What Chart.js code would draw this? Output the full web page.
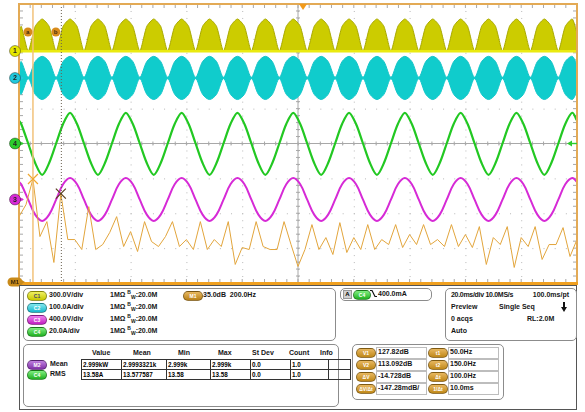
<!DOCTYPE html>
<html>
<head>
<meta charset="utf-8">
<script src="https://cdn.jsdelivr.net/npm/chart.js@4.4.0/dist/chart.umd.min.js"></script>
<style>
  body { margin: 0; background: #fff; width: 585px; height: 412px; overflow: hidden; font-family: "Liberation Sans", Arial, sans-serif; }
  #wrap { position: absolute; left: 0; top: 0; width: 585px; height: 290px; }
  .panel { position: absolute; left: 19px; top: 285px; width: 556px; height: 123px; border: 1px solid #555; background: #fff; }
  .box { position: absolute; border: 1px solid #8c8c8c; border-radius: 5px; background: #fff; }
  .t { position: absolute; font-size: 7px; font-weight: bold; color: #151515; white-space: nowrap; line-height: 10px; }
  .badge { position: absolute; width: 18px; height: 8px; border-radius: 5px; font-size: 5px; font-weight: bold; line-height: 8px; text-align: center; color: #fff; border: 1px solid rgba(0,0,0,0.35); }
  .c1 { background: linear-gradient(#f0f060, #c8c800); color: #446; }
  .c2 { background: linear-gradient(#80e8f0, #18b8cc); }
  .c3 { background: linear-gradient(#f080f0, #c020c0); }
  .c4 { background: linear-gradient(#80f080, #20b020); }
  .m1 { background: linear-gradient(#e8b860, #b88018); }
  .m2 { background: linear-gradient(#c080e0, #8030a8); }
  .cur { background: linear-gradient(#e8b860, #c08818); }
  table.meas { position: absolute; left: 81px; top: 359px; border-collapse: collapse; font-size: 6.3px; font-weight: bold; }
  table.meas td { border: 1px solid #333; height: 9px; padding: 0 1px; line-height: 9px; white-space: nowrap; }
  .cell { position: absolute; width: 49px; height: 10px; border: 1px solid #bdbdbd; background: #fff; }
  sup, sub { font-size: 5px; line-height: 0; }
</style>
</head>
<body>
<div id="wrap"><canvas id="scope" width="585" height="290"></canvas></div>

<div class="panel"></div>
<!-- channel settings -->
<div class="box" style="left:23px;top:288px;width:311px;height:51px;"></div>
<div class="badge c1" style="left:27px;top:291px;">C1</div><div class="t" style="left:49px;top:290px;">300.0V/div</div>
<div class="t" style="left:110px;top:290px;">1MΩ <sup>B</sup><sub>W</sub>:20.0M</div>
<div class="badge c2" style="left:27px;top:303px;">C2</div><div class="t" style="left:49px;top:302px;">100.0A/div</div>
<div class="t" style="left:110px;top:302px;">1MΩ <sup>B</sup><sub>W</sub>:20.0M</div>
<div class="badge c3" style="left:27px;top:315px;">C3</div><div class="t" style="left:49px;top:314px;">400.0V/div</div>
<div class="t" style="left:110px;top:314px;">1MΩ <sup>B</sup><sub>W</sub>:20.0M</div>
<div class="badge c4" style="left:27px;top:327px;">C4</div><div class="t" style="left:49px;top:326px;">20.0A/div</div>
<div class="t" style="left:110px;top:326px;">1MΩ <sup>B</sup><sub>W</sub>:20.0M</div>
<div class="badge m1" style="left:183px;top:291px;">M1</div><div class="t" style="left:203px;top:290px;">35.0dB&nbsp;&nbsp;200.0Hz</div>

<!-- trigger -->
<div class="box" style="left:340px;top:288px;width:90px;height:11px;"></div>
<div style="position:absolute;left:343px;top:290px;width:7px;height:7px;background:#d0d0d0;border:1px solid #999;font-size:6px;font-weight:bold;line-height:7px;text-align:center;">A</div>
<div class="badge c4" style="left:353px;top:290px;width:16px;">C4</div>
<svg style="position:absolute;left:370px;top:289px;" width="7" height="9"><path d="M0 1.5 H2 L5 7.5 H7" stroke="#111" stroke-width="1.2" fill="none"/></svg>
<div class="t" style="left:378px;top:289px;">400.0mA</div>

<!-- horizontal -->
<div class="box" style="left:445px;top:288px;width:130px;height:51px;"></div>
<div class="t" style="left:451px;top:290px;letter-spacing:-0.3px;">20.0ms/div 10.0MS/s</div>
<div class="t" style="left:526px;top:290px;width:43px;text-align:right;">100.0ms/pt</div>
<div class="t" style="left:451px;top:302px;">Preview</div>
<div class="t" style="left:499px;top:302px;">Single Seq</div>
<svg style="position:absolute;left:561px;top:302px;" width="6" height="10"><rect x="2" y="0" width="2" height="6" fill="#111"/><path d="M0 5 H6 L3 10 Z" fill="#111"/></svg>
<div class="t" style="left:451px;top:314px;">0 acqs</div>
<div class="t" style="left:527px;top:314px;">RL:2.0M</div>
<div class="t" style="left:451px;top:326px;">Auto</div>

<!-- measurements -->
<div class="box" style="left:23px;top:344px;width:314px;height:61px;"></div>
<div class="t" style="left:92px;top:348px;">Value</div>
<div class="t" style="left:133px;top:348px;">Mean</div>
<div class="t" style="left:178px;top:348px;">Min</div>
<div class="t" style="left:218px;top:348px;">Max</div>
<div class="t" style="left:252px;top:348px;">St Dev</div>
<div class="t" style="left:289px;top:348px;">Count</div>
<div class="t" style="left:320px;top:348px;">Info</div>
<div class="badge m2" style="left:27px;top:360px;">M2</div><div class="t" style="left:50px;top:359px;">Mean</div>
<div class="badge c4" style="left:27px;top:370px;">C4</div><div class="t" style="left:50px;top:369px;">RMS</div>
<table class="meas" id="measTable"></table>

<!-- cursors -->
<div class="box" style="left:352px;top:344px;width:150px;height:54px;"></div>
<div id="cursorRows"></div>

<script>
// time base: 20 ms/div over 10 div, samples read every 2.5 ms (plus both edges)
const timeMs = [0,
  0.8, 3.3, 5.8, 8.3, 10.8, 13.3, 15.8, 18.3,
  20.8, 23.3, 25.8, 28.3, 30.8, 33.3, 35.8, 38.3,
  40.8, 43.3, 45.8, 48.3, 50.8, 53.3, 55.8, 58.3,
  60.8, 63.3, 65.8, 68.3, 70.8, 73.3, 75.8, 78.3,
  80.8, 83.3, 85.8, 88.3, 90.8, 93.3, 95.8, 98.3,
  100.8, 103.3, 105.8, 108.3, 110.8, 113.3, 115.8, 118.3,
  120.8, 123.3, 125.8, 128.3, 130.8, 133.3, 135.8, 138.3,
  140.8, 143.3, 145.8, 148.3, 150.8, 153.3, 155.8, 158.3,
  160.8, 163.3, 165.8, 168.3, 170.8, 173.3, 175.8, 178.3,
  180.8, 183.3, 185.8, 188.3, 190.8, 193.3, 195.8, 198.3,
  200];

// trace positions in screen divisions (-4 .. 4)
const ch1Upper = [3.17,
  3.36, 2.65, 3.36, 3.57, 3.36, 2.65, 3.36, 3.57,
  3.36, 2.65, 3.36, 3.57, 3.36, 2.65, 3.36, 3.57,
  3.36, 2.65, 3.36, 3.57, 3.36, 2.65, 3.36, 3.57,
  3.36, 2.65, 3.36, 3.57, 3.36, 2.65, 3.36, 3.57,
  3.36, 2.65, 3.36, 3.57, 3.36, 2.65, 3.36, 3.57,
  3.36, 2.65, 3.36, 3.57, 3.36, 2.65, 3.36, 3.57,
  3.36, 2.65, 3.36, 3.57, 3.36, 2.65, 3.36, 3.57,
  3.36, 2.65, 3.36, 3.57, 3.36, 2.65, 3.36, 3.57,
  3.36, 2.65, 3.36, 3.57, 3.36, 2.65, 3.36, 3.57,
  3.36, 2.65, 3.36, 3.57, 3.36, 2.65, 3.36, 3.57,
  3.17];
const ch2Upper = [2.25,
  2.35, 1.90, 2.35, 2.50, 2.35, 1.90, 2.35, 2.50,
  2.35, 1.90, 2.35, 2.50, 2.35, 1.90, 2.35, 2.50,
  2.35, 1.90, 2.35, 2.50, 2.35, 1.90, 2.35, 2.50,
  2.35, 1.90, 2.35, 2.50, 2.35, 1.90, 2.35, 2.50,
  2.35, 1.90, 2.35, 2.50, 2.35, 1.90, 2.35, 2.50,
  2.35, 1.90, 2.35, 2.50, 2.35, 1.90, 2.35, 2.50,
  2.35, 1.90, 2.35, 2.50, 2.35, 1.90, 2.35, 2.50,
  2.35, 1.90, 2.35, 2.50, 2.35, 1.90, 2.35, 2.50,
  2.35, 1.90, 2.35, 2.50, 2.35, 1.90, 2.35, 2.50,
  2.35, 1.90, 2.35, 2.50, 2.35, 1.90, 2.35, 2.50,
  2.25];
const ch2Lower = [1.50,
  1.41, 1.86, 1.41, 1.26, 1.41, 1.86, 1.41, 1.26,
  1.41, 1.86, 1.41, 1.26, 1.41, 1.86, 1.41, 1.26,
  1.41, 1.86, 1.41, 1.26, 1.41, 1.86, 1.41, 1.26,
  1.41, 1.86, 1.41, 1.26, 1.41, 1.86, 1.41, 1.26,
  1.41, 1.86, 1.41, 1.26, 1.41, 1.86, 1.41, 1.26,
  1.41, 1.86, 1.41, 1.26, 1.41, 1.86, 1.41, 1.26,
  1.41, 1.86, 1.41, 1.26, 1.41, 1.86, 1.41, 1.26,
  1.41, 1.86, 1.41, 1.26, 1.41, 1.86, 1.41, 1.26,
  1.41, 1.86, 1.41, 1.26, 1.41, 1.86, 1.41, 1.26,
  1.41, 1.86, 1.41, 1.26, 1.41, 1.86, 1.41, 1.26,
  1.50];
const ch4Trace = [0.66,
  0.56, 0.00, -0.56, -0.90, -0.56, 0.00, 0.56, 0.88,
  0.56, 0.00, -0.56, -0.90, -0.56, 0.00, 0.56, 0.88,
  0.56, 0.00, -0.56, -0.90, -0.56, 0.00, 0.56, 0.88,
  0.56, 0.00, -0.56, -0.90, -0.56, 0.00, 0.56, 0.88,
  0.56, 0.00, -0.56, -0.90, -0.56, 0.00, 0.56, 0.88,
  0.56, 0.00, -0.56, -0.90, -0.56, 0.00, 0.56, 0.88,
  0.56, 0.00, -0.56, -0.90, -0.56, 0.00, 0.56, 0.88,
  0.56, 0.00, -0.56, -0.90, -0.56, 0.00, 0.56, 0.88,
  0.56, 0.00, -0.56, -0.90, -0.56, 0.00, 0.56, 0.88,
  0.56, 0.00, -0.56, -0.90, -0.56, 0.00, 0.56, 0.88,
  0.66];
const ch3Trace = [-1.10,
  -1.17, -1.61, -2.04, -2.22, -2.04, -1.61, -1.17, -0.99,
  -1.17, -1.61, -2.04, -2.22, -2.04, -1.61, -1.17, -0.99,
  -1.17, -1.61, -2.04, -2.22, -2.04, -1.61, -1.17, -0.99,
  -1.17, -1.61, -2.04, -2.22, -2.04, -1.61, -1.17, -0.99,
  -1.17, -1.61, -2.04, -2.22, -2.04, -1.61, -1.17, -0.99,
  -1.17, -1.61, -2.04, -2.22, -2.04, -1.61, -1.17, -0.99,
  -1.17, -1.61, -2.04, -2.22, -2.04, -1.61, -1.17, -0.99,
  -1.17, -1.61, -2.04, -2.22, -2.04, -1.61, -1.17, -0.99,
  -1.17, -1.61, -2.04, -2.22, -2.04, -1.61, -1.17, -0.99,
  -1.17, -1.61, -2.04, -2.22, -2.04, -1.61, -1.17, -0.99,
  -1.10];

// M1 = FFT of C4, 200 Hz/div, 35 dB/div
const fftHz = [0, 25, 50, 75, 100, 125, 150, 175, 200, 225, 250, 275, 300, 325, 350, 375, 400, 425, 450, 475,
  500, 525, 550, 575, 600, 625, 650, 675, 700, 725, 750, 775, 800, 825, 850, 875, 900, 925, 950, 975,
  1000, 1025, 1050, 1075, 1100, 1125, 1150, 1175, 1200, 1225, 1250, 1275, 1300, 1325, 1350, 1375, 1400, 1425, 1450, 1475,
  1500, 1525, 1550, 1575, 1600, 1625, 1650, 1675, 1700, 1725, 1750, 1775, 1800, 1825, 1850, 1875, 1900, 1925, 1950, 1975, 2000];
const fftDb = [90, 102, 127.8, 70, 85, 44, 113.1, 67, 67, 57, 100, 57, 62, 74, 90, 60, 75, 55, 85, 65,
  60, 70, 85, 60, 67, 57, 85, 57, 67, 60, 85, 42, 59, 57, 85, 60, 57, 57, 85, 62,
  40, 57, 82, 57, 69, 52, 84, 54, 69, 57, 82, 57, 67, 62, 82, 59, 72, 62, 82, 62,
  67, 60, 82, 60, 72, 59, 80, 42, 69, 62, 80, 39, 69, 60, 80, 47, 62, 62, 79, 50, 67];

// channel reference positions (div) and cursor readouts
const chOffsets = [2.652, 1.878, -1.606, 0];
const chColors = ['#e6e600', '#22c8dc', '#d62ad6', '#2ccc2c'];
const cursorHz = [50, 150];
const cursorDb = [127.82, 113.092];
const triggerMs = 101.8;

const measRows = [
  ['2.999kW', '2.9993321k', '2.999k', '2.999k', '0.0', '1.0', ''],
  ['13.58A', '13.577587', '13.58', '13.58', '0.0', '1.0', '']
];
const cursorLabels = [['V1', '127.82dB', 't1', '50.0Hz'], ['V2', '113.092dB', 't2', '150.0Hz'],
  ['ΔV', '-14.728dB', 'Δt', '100.0Hz'], ['ΔV/Δt', '-147.28mdB/', '1/Δt', '10.0ms']];

// measurement table
const colW = [37, 42, 41, 37, 37, 35, 19];
let html = '';
measRows.forEach(r => {
  html += '<tr>' + r.map((v, i) => '<td style="width:' + colW[i] + 'px">' + v + '</td>').join('') + '</tr>';
});
document.getElementById('measTable').innerHTML = html;

// cursor readouts
let ch = '';
cursorLabels.forEach((r, i) => {
  const top = 347 + i * 12;
  ch += '<div class="badge cur" style="left:356px;top:' + (top + 1) + 'px;">' + r[0] + '</div>';
  ch += '<div class="cell" style="left:376px;top:' + top + 'px;"></div><div class="t" style="left:378px;top:' + top + 'px;">' + r[1] + '</div>';
  ch += '<div class="badge cur" style="left:428px;top:' + (top + 1) + 'px;">' + r[2] + '</div>';
  ch += '<div class="cell" style="left:448px;top:' + top + 'px;"></div><div class="t" style="left:450px;top:' + top + 'px;">' + r[3] + '</div>';
});
document.getElementById('cursorRows').innerHTML = ch;

const pts = arr => timeMs.map((t, i) => ({x: t, y: arr[i]}));

function marker(ctx, x, y, color, label) {
  ctx.fillStyle = color;
  ctx.beginPath();
  ctx.moveTo(x + 4, y - 2.5); ctx.lineTo(x + 9, y); ctx.lineTo(x + 4, y + 2.5); ctx.fill();
  ctx.fillRect(x, y - 0.8, 8, 1.6);
  ctx.beginPath(); ctx.arc(x, y, 5.5, 0, Math.PI * 2); ctx.fill();
  ctx.strokeStyle = 'rgba(0,0,0,0.45)'; ctx.lineWidth = 0.8; ctx.stroke();
  ctx.fillStyle = '#222'; ctx.font = 'bold 7px "Liberation Sans"';
  ctx.textAlign = 'center'; ctx.textBaseline = 'middle';
  ctx.fillText(label, x, y + 0.5);
}

const scopeGrid = {
  id: 'scopeGrid',
  beforeDatasetsDraw(chart) {
    const {ctx, chartArea: a} = chart;
    const dx = (a.right - a.left) / 10, dy = (a.bottom - a.top) / 8;
    ctx.save();
    ctx.fillStyle = '#b8b8b8';
    for (let i = 1; i < 10; i++) {
      for (let j = 0; j <= 40; j++) ctx.fillRect(a.left + i * dx, a.top + j * dy / 5, 1, 1);
    }
    for (let j = 1; j < 8; j++) {
      for (let i = 0; i <= 50; i++) ctx.fillRect(a.left + i * dx / 5, a.top + j * dy, 1, 1);
    }
    const cx = a.left + 5 * dx, cy = a.top + 4 * dy;
    ctx.strokeStyle = '#a8a8a8'; ctx.lineWidth = 1;
    ctx.beginPath();
    ctx.moveTo(cx, a.top); ctx.lineTo(cx, a.bottom);
    ctx.moveTo(a.left, cy); ctx.lineTo(a.right, cy);
    for (let j = 0; j <= 40; j++) { const y = a.top + j * dy / 5; ctx.moveTo(cx - 2, y); ctx.lineTo(cx + 2, y); ctx.moveTo(a.left, y); ctx.lineTo(a.left + 4, y); ctx.moveTo(a.right - 4, y); ctx.lineTo(a.right, y); }
    for (let i = 0; i <= 50; i++) { const x = a.left + i * dx / 5; ctx.moveTo(x, cy - 2); ctx.lineTo(x, cy + 2); ctx.moveTo(x, a.top); ctx.lineTo(x, a.top + 4); ctx.moveTo(x, a.bottom - 4); ctx.lineTo(x, a.bottom); }
    ctx.stroke();
    ctx.restore();
  },
  afterDatasetsDraw(chart) {
    const {ctx, chartArea: a, scales} = chart;
    ctx.save();
    // ch1 baseline
    const yb = scales.y.getPixelForValue(chOffsets[0]);
    ctx.fillStyle = '#eaea10'; ctx.fillRect(a.left, yb - 1, a.right - a.left, 2.5);
    // cursors a and b on the FFT
    const xa = scales.xf.getPixelForValue(cursorHz[0]), xb = scales.xf.getPixelForValue(cursorHz[1]);
    ctx.strokeStyle = '#f2c27a'; ctx.lineWidth = 1.5;
    ctx.beginPath(); ctx.moveTo(xa, a.top); ctx.lineTo(xa, a.bottom); ctx.stroke();
    ctx.strokeStyle = '#6a6050'; ctx.lineWidth = 1; ctx.setLineDash([1, 2]);
    ctx.beginPath(); ctx.moveTo(xb + 0.5, a.top); ctx.lineTo(xb + 0.5, a.bottom); ctx.stroke();
    ctx.setLineDash([]);
    [[xa, scales.yM.getPixelForValue(cursorDb[0]), '#f0a830'], [xb, scales.yM.getPixelForValue(cursorDb[1]), '#5a4020']].forEach(([x, y, c]) => {
      ctx.strokeStyle = c; ctx.lineWidth = 1.2;
      ctx.beginPath(); ctx.moveTo(x - 5, y - 5); ctx.lineTo(x + 5, y + 5); ctx.moveTo(x + 5, y - 5); ctx.lineTo(x - 5, y + 5); ctx.stroke();
    });
    // frame
    ctx.strokeStyle = '#e3aa55'; ctx.lineWidth = 2;
    ctx.strokeRect(a.left, a.top, a.right - a.left, a.bottom - a.top);
    ctx.fillStyle = '#f0a020'; ctx.fillRect(a.left - 1, a.bottom - 1, a.right - a.left + 2, 3);
    // trigger position
    const tx = scales.x.getPixelForValue(triggerMs);
    ctx.fillStyle = '#f29a1a';
    ctx.beginPath(); ctx.moveTo(tx - 4, a.top); ctx.lineTo(tx + 4, a.top); ctx.lineTo(tx, a.top + 6); ctx.fill();
    // trigger level (C4)
    const ty = scales.y.getPixelForValue(0);
    ctx.fillStyle = '#2ccc2c';
    ctx.beginPath(); ctx.moveTo(a.right - 10, ty); ctx.lineTo(a.right - 5, ty - 3); ctx.lineTo(a.right - 5, ty + 3); ctx.fill();
    ctx.fillRect(a.right - 6, ty - 0.7, 6, 1.4);
    // cursor labels
    [[xa - 5, 'a'], [xb - 5, 'b']].forEach(([x, l]) => {
      ctx.fillStyle = '#d88a1a'; ctx.beginPath(); ctx.arc(x, a.top + 28, 4.5, 0, Math.PI * 2); ctx.fill();
      ctx.fillStyle = '#3a2a10'; ctx.font = 'bold 6px "Liberation Sans"'; ctx.textAlign = 'center'; ctx.textBaseline = 'middle';
      ctx.fillText(l, x, a.top + 28.5);
    });
    // channel markers
    const mx = a.left - 4;
    marker(ctx, mx, scales.y.getPixelForValue(chOffsets[0]), chColors[0], '1');
    marker(ctx, mx, scales.y.getPixelForValue(chOffsets[1]), chColors[1], '2');
    marker(ctx, mx, scales.y.getPixelForValue(chOffsets[3]), chColors[3], '4');
    marker(ctx, mx, scales.y.getPixelForValue(chOffsets[2]), chColors[2], '3');
    // M1 reference
    const my = a.bottom - 1;
    ctx.fillStyle = '#c88a1a';
    ctx.beginPath(); ctx.moveTo(a.left + 1, my - 3); ctx.lineTo(a.left + 6, my); ctx.lineTo(a.left + 1, my + 3); ctx.fill();
    ctx.beginPath(); ctx.arc(mx - 3, my, 4.5, Math.PI / 2, Math.PI * 1.5); ctx.arc(mx + 3, my, 4.5, -Math.PI / 2, Math.PI / 2); ctx.fill();
    ctx.fillStyle = '#3a2a10'; ctx.font = 'bold 6px "Liberation Sans"'; ctx.textAlign = 'center'; ctx.textBaseline = 'middle';
    ctx.fillText('M1', mx, my + 0.5);
    ctx.restore();
  }
};

new Chart(document.getElementById('scope'), {
  type: 'line',
  data: {
    datasets: [
      {label: 'M1', data: fftHz.map((f, i) => ({x: f, y: fftDb[i]})), xAxisID: 'xf', yAxisID: 'yM',
        borderColor: '#e2a53c', borderWidth: 1, tension: 0, pointRadius: 0},
      {label: 'C3', data: pts(ch3Trace), borderColor: '#d62ad6', borderWidth: 2, tension: 0.36, pointRadius: 0},
      {label: 'C4', data: pts(ch4Trace), borderColor: '#22c822', borderWidth: 2.2, tension: 0.3, pointRadius: 0},
      {label: 'C2 upper', data: pts(ch2Upper), borderColor: '#18c4c8', backgroundColor: '#10cccc',
        borderWidth: 1, tension: 0.3, pointRadius: 0, fill: '+1'},
      {label: 'C2 lower', data: pts(ch2Lower), borderColor: '#18c4c8', borderWidth: 1, tension: 0.3, pointRadius: 0},
      {label: 'C1', data: pts(ch1Upper), borderColor: '#a8a800', backgroundColor: '#cccc00',
        borderWidth: 1, tension: 0.2, pointRadius: 0, fill: {value: chOffsets[0]}}
    ]
  },
  options: {
    responsive: false,
    animation: false,
    devicePixelRatio: 1,
    layout: {padding: {left: 19, top: 4, right: 8, bottom: 7}},
    plugins: {legend: {display: false}, tooltip: {enabled: false}},
    scales: {
      x: {type: 'linear', min: 0, max: 200, display: false},
      xf: {type: 'linear', min: 0, max: 2000, display: false},
      y: {type: 'linear', min: -4, max: 4, display: false},
      yM: {type: 'linear', min: 23.4, max: 303.4, display: false}
    }
  },
  plugins: [scopeGrid]
});
</script>
</body>
</html>
